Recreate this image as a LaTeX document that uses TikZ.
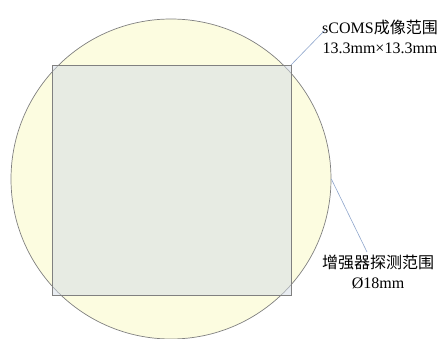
\documentclass[tikz,border=0pt]{standalone}
\usepackage{fontspec}
\usepackage{tikz}
\usepackage{xcolor}
\setmainfont{Liberation Serif}
\newfontfamily\cjk{Noto Sans CJK SC}
\definecolor{tube-yellow}{RGB}{252,252,224}
\definecolor{sensor-grey}{RGB}{212,220,230}
\definecolor{edge-grey}{RGB}{128,128,128}
\definecolor{leader-blue}{RGB}{143,166,204}
\tikzset{
    range-circle/.style = {draw=edge-grey, fill=tube-yellow, line width=0.7pt, circle, inner sep=0pt, minimum size=320pt},
    range-square/.style = {draw=edge-grey, fill=sensor-grey, fill opacity=0.5, line width=0.8pt},
    leader/.style = {draw=leader-blue, line width=0.6pt},
    range-label/.style = {align=center, inner sep=0pt, font=\fontsize{16}{20}\selectfont},
}

\begin{document}
\begin{tikzpicture}[x=1pt, y=1pt]
\useasboundingbox (0,0) rectangle (442,338);
\begin{scope}
\clip (0,0) rectangle (442,338);
\node [range-circle] (tube) at (171,159) {};
\end{scope}
\draw [range-square] (52,43) rectangle (291,273);
\coordinate (sensor-ne) at (291,273);
\node [range-label] (sensor-text) at (380,301) {sCOMS{\cjk 成像范围}\\13.3mm×13.3mm};
\node [range-label] (tube-text) at (378,66) {{\cjk 增强器探测范围}\\Ø18mm};
\coordinate (sensor-end) at (325,308);
\coordinate (tube-end) at (367,86);
\draw [leader] (sensor-ne) -- (sensor-end);
\draw [leader] (tube.east) -- (tube-end);
\end{tikzpicture}
\end{document}
